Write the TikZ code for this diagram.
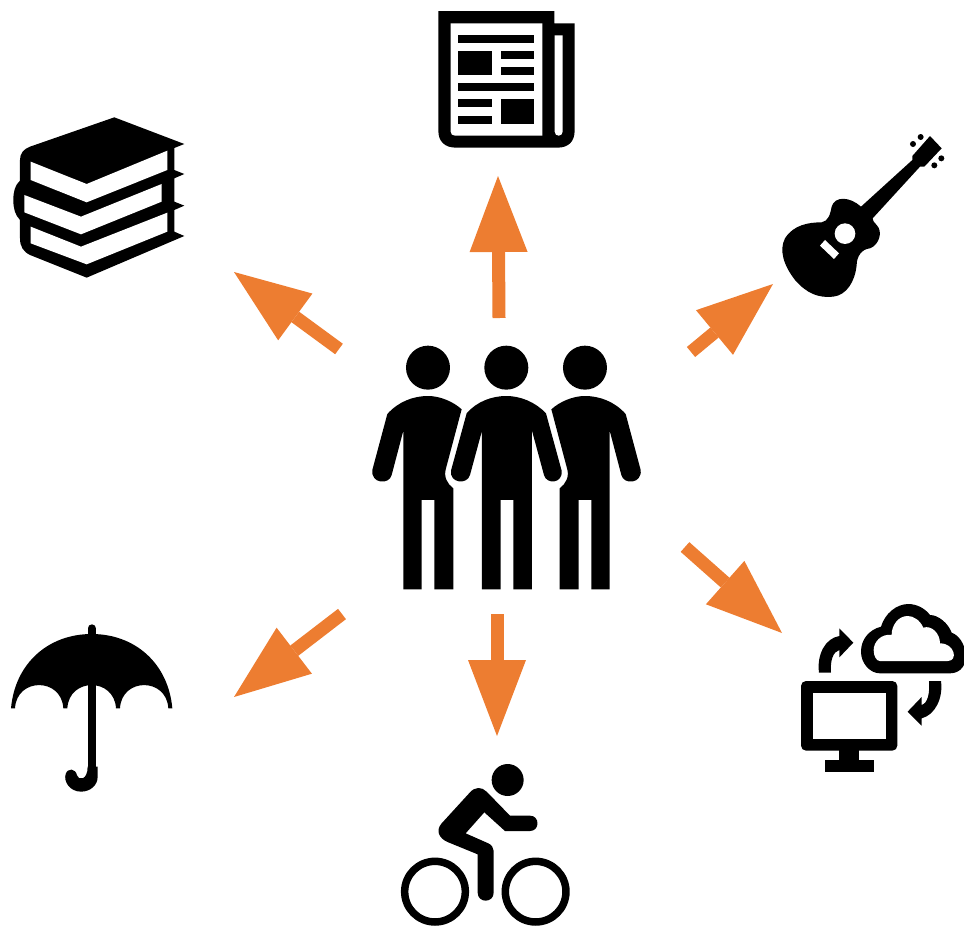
\documentclass[tikz,border=0pt]{standalone}
\definecolor{arroworange}{RGB}{237, 125, 49}
\usepackage{tikz}
\usetikzlibrary{arrows.meta}
\tikzset{
  flowarrow/.style={draw=arroworange, line width=13pt, -{Triangle[width=58pt, length=76pt, line width=0pt, fill=arroworange]}},
  iconline/.style={draw=black, line cap=round, line join=round}
}
% one side man, cut along the gap next to the middle one
\newcommand{\sideman}{(305,208) -- (258,385) .. controls (250,410) and (262,432) .. (280,445) -- (280,748) -- (223,748) -- (223,480) -- (185,480) -- (185,748) -- (130,748) -- (130,272) -- (95,405) .. controls (88,435) and (32,432) .. (37,390) -- (82,222) .. controls (115,185) and (160,168) .. (204,168) .. controls (240,168) and (280,185) .. (305,208) -- cycle}

\begin{document}
\begin{tikzpicture}[x=1pt, y=-1pt]
  \useasboundingbox (0,0) rectangle (964,927);

  % Arrow ends
  \coordinate (newsfrom) at (499,318);
  \coordinate (newsto) at (498,176);
  \coordinate (booksfrom) at (339,349);
  \coordinate (booksto) at (234,272);
  \coordinate (guitarfrom) at (691,352);
  \coordinate (guitarto) at (773,284);
  \coordinate (cloudfrom) at (685,547);
  \coordinate (cloudto) at (782,633);
  \coordinate (bikefrom) at (497,614);
  \coordinate (biketo) at (497,736);
  \coordinate (umbrellafrom) at (342,614);
  \coordinate (umbrellato) at (234,697);

  % Arrows
  \draw[flowarrow] (newsfrom) -- (newsto);
  \draw[flowarrow] (booksfrom) -- (booksto);
  \draw[flowarrow] (guitarfrom) -- (guitarto);
  \draw[flowarrow] (cloudfrom) -- (cloudto);
  \draw[flowarrow] (bikefrom) -- (biketo);
  \draw[flowarrow] (umbrellafrom) -- (umbrellato);

  % Three men
  \begin{scope}[shift={(360,340)}, scale=0.3333]
    \fill (204,83) circle (66);
    \fill (439,83) circle (66);
    \fill (675,83) circle (66);
    \fill \sideman;
    \fill (439,168) .. controls (480,168) and (525,185) .. (558,220) -- (605,392) .. controls (610,430) and (560,435) .. (552,405) -- (516,272) -- (516,748) -- (460,748) -- (460,480) -- (422,480) -- (422,748) -- (366,748) -- (366,272) -- (330,405) .. controls (322,435) and (268,430) .. (273,392) -- (320,220) .. controls (350,185) and (395,168) .. (439,168) -- cycle;
  \end{scope}
  \begin{scope}[shift={(653,340)}, xscale=-0.3333, yscale=0.3333]
    \fill \sideman;
  \end{scope}

  % Newspaper
  \begin{scope}[shift={(430,0)}, scale=0.3333]
    \fill (25,33) -- (373,33) -- (373,70) -- (434,70) -- (434,392) .. controls (434,425) and (415,443) .. (382,443) -- (78,443) .. controls (45,443) and (25,425) .. (25,392) -- cycle;
    \fill[white] (62,70) -- (337,70) -- (337,407) -- (75,407) .. controls (67,407) and (62,402) .. (62,395) -- cycle;
    \fill[white] (374,106) -- (398,106) -- (398,395) .. controls (398,411) and (374,411) .. (374,395) -- cycle;
    \fill[black] (85,106) rectangle (313,130);
    \fill[black] (85,153) rectangle (187,226);
    \fill[black] (212,153) rectangle (313,178);
    \fill[black] (212,202) rectangle (313,226);
    \fill[black] (85,250) rectangle (313,274);
    \fill[black] (85,298) rectangle (187,322);
    \fill[black] (85,347) rectangle (187,371);
    \fill[black] (212,298) rectangle (313,371);
  \end{scope}

  % Books
  \begin{scope}[shift={(5,110)}, scale=0.3333]
    \fill (328,22) -- (538,102) -- (508,114) -- (508,180) -- (538,192) -- (508,205) -- (508,275) -- (538,287) -- (508,300) -- (508,365) -- (538,378) -- (245,503) -- (75,435) .. controls (55,425) and (45,410) .. (45,385) -- (45,330) .. controls (30,315) and (25,295) .. (25,270) .. controls (25,245) and (30,225) .. (45,212) -- (45,150) .. controls (45,130) and (55,118) .. (75,110) -- cycle;
    \fill[white] (77,155) -- (245,222) -- (487,122) -- (487,180) -- (245,277) -- (77,210) -- cycle;
    \fill[white] (58,255) -- (228,320) -- (470,222) -- (470,275) -- (228,373) -- (58,307) -- cycle;
    \fill[white] (77,350) -- (228,410) -- (487,308) -- (487,365) -- (245,463) -- (77,400) -- cycle;
  \end{scope}

  % Guitar
  \begin{scope}[shift={(775,125)}, scale=0.3333]
    \fill (258,245) .. controls (225,215) and (180,212) .. (170,245) .. controls (165,270) and (160,288) .. (140,292) .. controls (100,292) and (55,300) .. (30,340) .. controls (12,375) and (25,420) .. (60,465) .. controls (95,505) and (130,520) .. (175,515) .. controls (215,510) and (240,470) .. (245,420) .. controls (245,395) and (260,372) .. (285,370) .. controls (312,360) and (325,320) .. (305,300) .. controls (295,290) and (293,285) .. (293,280) -- (435,125) -- (448,125) -- (500,70) -- (465,33) -- (412,93) -- (412,105) -- cycle;
    \fill (414,57) circle (9);
    \fill (437,36) circle (9);
    \fill (478,121) circle (9);
    \fill (499,100) circle (9);
    \fill[white] (210,326) circle (31);
    \fill[white] (150,345) -- (192,385) -- (177,402) -- (135,362) -- cycle;
  \end{scope}

  % Monitor and cloud
  \begin{scope}[shift={(795,600)}, scale=0.3333]
    \fill[rounded corners=5pt] (18,243) rectangle (307,452);
    \fill[white] (54,280) rectangle (272,418);
    \fill (133,450) rectangle (193,482);
    \fill (90,480) rectangle (236,515);
    \fill (255,220) -- (465,220) .. controls (500,220) and (515,190) .. (512,165) .. controls (510,130) and (490,105) .. (470,98) .. controls (460,70) and (430,45) .. (405,45) .. controls (390,25) and (365,12) .. (340,12) .. controls (305,12) and (270,40) .. (258,80) .. controls (220,90) and (198,120) .. (198,155) .. controls (198,190) and (225,220) .. (255,220) -- cycle;
    \fill[white] (255,183) -- (458,183) .. controls (490,183) and (480,130) .. (435,130) .. controls (435,100) and (410,75) .. (385,83) .. controls (375,60) and (355,48) .. (338,48) .. controls (310,48) and (290,75) .. (290,105) .. controls (260,100) and (236,125) .. (236,150) .. controls (236,170) and (245,183) .. (255,183) -- cycle;
    \fill (72,218) .. controls (65,165) and (90,115) .. (133,108) -- (133,85) -- (175,128) -- (133,172) -- (133,150) .. controls (115,155) and (105,180) .. (108,218) -- cycle;
    \fill (438,243) .. controls (445,295) and (420,345) .. (380,355) -- (380,377) -- (338,335) -- (380,291) -- (380,315) .. controls (398,310) and (405,280) .. (402,243) -- cycle;
  \end{scope}

  % Cyclist
  \begin{scope}[shift={(395,755)}, scale=0.3333]
    \fill (338,75) circle (48);
    \draw[line width=7.5pt] (120,410) circle (91);
    \draw[line width=7.5pt] (422,410) circle (91);
    \fill (405,182) .. controls (435,182) and (435,228) .. (405,228) -- (330,228) -- (268,172) -- (212,235) -- (280,265) .. controls (290,270) and (296,278) .. (296,288) -- (296,413) .. controls (296,445) and (248,445) .. (248,413) -- (248,298) -- (160,262) .. controls (130,250) and (122,225) .. (140,205) -- (225,112) .. controls (240,95) and (260,95) .. (275,110) -- (345,182) -- cycle;
  \end{scope}

  % Umbrella
  \begin{scope}[shift={(5,620)}, scale=0.3333]
    \draw[iconline, line width=8pt] (260,25) -- (260,445);
    \fill (248,440) -- (278,440) -- (278,470) .. controls (278,497) and (255,515) .. (228,515) .. controls (195,515) and (175,485) .. (182,462) .. controls (188,443) and (212,445) .. (216,466) .. controls (220,482) and (248,482) .. (248,440) -- cycle;
    \fill (18,265) .. controls (30,130) and (130,42) .. (260,42) .. controls (390,42) and (490,130) .. (502,265) -- (490,265) .. controls (485,172) and (350,172) .. (345,265) -- (333,265) .. controls (328,172) and (192,172) .. (187,265) -- (175,265) .. controls (170,172) and (35,172) .. (30,265) -- cycle;
  \end{scope}
\end{tikzpicture}
\end{document}
